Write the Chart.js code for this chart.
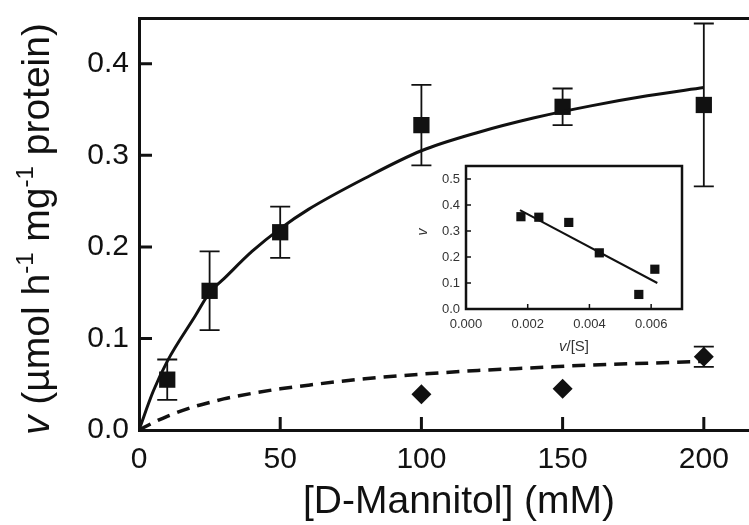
<!DOCTYPE html>
<html>
<head>
<meta charset="utf-8">
<script src="https://cdn.jsdelivr.net/npm/chart.js@4.4.1/dist/chart.umd.min.js"></script>
<style>
    html, body { margin: 0; padding: 0; background: #fff; }
    #wrap { position: relative; width: 749px; height: 525px; }
    #main { position: absolute; left: 0; top: 0; }
    #inset { position: absolute; left: 400px; top: 150px; }
</style>
</head>
<body>
<div id="wrap">
    <canvas id="main" width="749" height="525"></canvas>
    <canvas id="inset" width="300" height="215"></canvas>
</div>
<script>
// main panel: uptake vs [D-Mannitol]
const xTicks = [0, 50, 100, 150, 200];
const yTicks = [0, 0.1, 0.2, 0.3, 0.4];
const mannitol = [10, 25, 50, 100, 150, 200];
const rate = [0.055, 0.152, 0.216, 0.333, 0.353, 0.355];
const rateErr = [0.022, 0.043, 0.028, 0.044, 0.020, 0.089];
const mannitolB = [100, 150, 200];
const rateB = [0.039, 0.045, 0.080];
const rateBErr = [0, 0, 0.011];
// fitted curves
const fitX = [0, 5, 10, 20, 25, 30, 40, 50, 60, 80, 100, 120, 140, 160, 180, 200];
const fitSolid = [0, 0.042, 0.075, 0.125, 0.150, 0.165, 0.195, 0.220, 0.241, 0.275, 0.305, 0.325, 0.341, 0.354, 0.365, 0.374];
const fitDashed = [0, 0.008, 0.015, 0.026, 0.030, 0.034, 0.040, 0.045, 0.049, 0.056, 0.061, 0.065, 0.068, 0.071, 0.073, 0.075];

// inset: v vs v/[S]
const insetX = [0.00178, 0.00236, 0.00333, 0.00432, 0.00560, 0.00612];
const insetY = [0.355, 0.353, 0.333, 0.216, 0.056, 0.153];
const insetLineX = [0.00175, 0.00620];
const insetLineY = [0.380, 0.100];
const insetXTicks = [0, 0.002, 0.004, 0.006];
const insetYTicks = [0, 0.1, 0.2, 0.3, 0.4, 0.5];

const INK = '#111';
const FAMILY = "'Liberation Sans', Arial, sans-serif";

// text with italic / superscript pieces
function drawRich(ctx, parts, x, y, size, align) {
    const fontOf = p => (p[1] === 'i' ? 'italic ' : '') + (p[1] === 's' ? Math.round(size * 0.62) : size) + 'px ' + FAMILY;
    let total = 0;
    parts.forEach(p => { ctx.font = fontOf(p); total += ctx.measureText(p[0]).width; });
    let cx = align === 'center' ? x - total / 2 : x;
    ctx.textAlign = 'left';
    ctx.textBaseline = 'alphabetic';
    parts.forEach(p => {
        ctx.font = fontOf(p);
        ctx.fillText(p[0], cx, p[1] === 's' ? y - size * 0.42 : y);
        cx += ctx.measureText(p[0]).width;
    });
}

const errorBars = {
    id: 'errorBars',
    beforeDatasetsDraw(chart) {
        const ctx = chart.ctx;
        const xs = chart.scales.x, ys = chart.scales.y;
        chart.data.datasets.forEach(ds => {
            if (!ds.errors) return;
            ds.data.forEach((d, i) => {
                const e = ds.errors[i];
                if (!e) return;
                const px = xs.getPixelForValue(d.x);
                const top = ys.getPixelForValue(d.y + e);
                const bot = ys.getPixelForValue(d.y - e);
                ctx.save();
                ctx.strokeStyle = INK;
                ctx.lineWidth = 1.8;
                ctx.beginPath();
                ctx.moveTo(px, top); ctx.lineTo(px, bot);
                ctx.moveTo(px - 10, top); ctx.lineTo(px + 10, top);
                ctx.moveTo(px - 10, bot); ctx.lineTo(px + 10, bot);
                ctx.stroke();
                ctx.restore();
            });
        });
    }
};

const mainDecor = {
    id: 'mainDecor',
    afterDraw(chart) {
        const ctx = chart.ctx;
        const { left, bottom } = chart.chartArea;
        const xs = chart.scales.x, ys = chart.scales.y;
        ctx.save();
        ctx.strokeStyle = INK;
        ctx.lineWidth = 3;
        ctx.beginPath();
        xTicks.forEach(v => {
            if (v === 0) return;
            const px = xs.getPixelForValue(v);
            ctx.moveTo(px, bottom); ctx.lineTo(px, bottom - 13);
        });
        yTicks.forEach(v => {
            if (v === 0) return;
            const py = ys.getPixelForValue(v);
            ctx.moveTo(left, py); ctx.lineTo(left + 13, py);
        });
        ctx.stroke();

        ctx.fillStyle = INK;
        drawRich(ctx, [['[D-Mannitol] (mM)', '']], 459, 513, 39, 'center');

        ctx.translate(49, 229);
        ctx.rotate(-Math.PI / 2);
        drawRich(ctx, [['v', 'i'], [' (µmol h', ''], ['-1', 's'], [' mg', ''], ['-1', 's'], [' protein)', '']], 0, 0, 39, 'center');
        ctx.restore();
    }
};

new Chart(document.getElementById('main'), {
    type: 'scatter',
    data: {
        datasets: [
            {
                type: 'line',
                data: fitX.map((x, i) => ({ x, y: fitSolid[i] })),
                borderColor: INK, borderWidth: 3, pointRadius: 0,
                cubicInterpolationMode: 'monotone', fill: false,
                xAxisID: 'x', yAxisID: 'y',
            },
            {
                type: 'line',
                data: fitX.map((x, i) => ({ x, y: fitDashed[i] })),
                borderColor: INK, borderWidth: 3.5, borderDash: [13, 8], pointRadius: 0,
                cubicInterpolationMode: 'monotone', fill: false,
                xAxisID: 'x', yAxisID: 'y',
            },
            {
                data: mannitol.map((x, i) => ({ x, y: rate[i] })),
                errors: rateErr,
                pointStyle: 'rect', pointRadius: 11.5,
                backgroundColor: INK, borderColor: INK, borderWidth: 0,
                xAxisID: 'x', yAxisID: 'y',
            },
            {
                data: mannitolB.map((x, i) => ({ x, y: rateB[i] })),
                errors: rateBErr,
                pointStyle: 'rectRot', pointRadius: 10,
                backgroundColor: INK, borderColor: INK, borderWidth: 0,
                xAxisID: 'x', yAxisID: 'y',
            },
        ],
    },
    options: {
        responsive: false,
        animation: false,
        devicePixelRatio: 1,
        layout: { autoPadding: false, padding: { top: 18, right: 0, left: 0, bottom: 0 } },
        plugins: { legend: { display: false }, tooltip: { enabled: false } },
        scales: {
            x: {
                type: 'linear', position: 'bottom', min: 0, max: 216,
                afterBuildTicks: s => { s.ticks = xTicks.map(v => ({ value: v })); },
                afterFit: s => { s.height = 95; s.paddingRight = 0; },
                grid: { display: false, drawTicks: false },
                border: { display: true, color: INK, width: 3 },
                ticks: { color: INK, font: { family: FAMILY, size: 30 }, padding: 12, maxRotation: 0 },
            },
            xTop: {
                type: 'linear', position: 'top', axis: 'x', min: 0, max: 216,
                afterFit: s => { s.height = 0; s.paddingLeft = 0; s.paddingRight = 0; },
                grid: { display: false, drawTicks: false },
                border: { display: true, color: INK, width: 3 },
                ticks: { display: false },
            },
            y: {
                type: 'linear', min: 0, max: 0.45,
                afterBuildTicks: s => { s.ticks = yTicks.map(v => ({ value: v })); },
                afterFit: s => { s.width = 139; s.paddingTop = 0; s.paddingBottom = 0; },
                grid: { display: false, drawTicks: false },
                border: { display: true, color: INK, width: 3 },
                ticks: { color: INK, font: { family: FAMILY, size: 30 }, padding: 10, callback: v => v.toFixed(1) },
            },
        },
    },
    plugins: [errorBars, mainDecor],
});

// inset frame, ticks and titles
const insetDecor = {
    id: 'insetDecor',
    beforeDraw(chart) {
        const { left, top, width, height } = chart.chartArea;
        chart.ctx.save();
        chart.ctx.fillStyle = '#fff';
        chart.ctx.fillRect(left, top, width, height);
        chart.ctx.restore();
    },
    afterDraw(chart) {
        const ctx = chart.ctx;
        const { left, top, right, bottom } = chart.chartArea;
        const xs = chart.scales.x, ys = chart.scales.y;
        ctx.save();
        ctx.strokeStyle = INK;
        ctx.lineWidth = 2.5;
        ctx.strokeRect(left, top, right - left, bottom - top);
        ctx.lineWidth = 1.5;
        ctx.beginPath();
        insetXTicks.forEach(v => {
            if (v === 0) return;
            const px = xs.getPixelForValue(v);
            ctx.moveTo(px, bottom); ctx.lineTo(px, bottom - 5);
        });
        insetYTicks.forEach(v => {
            if (v === 0) return;
            const py = ys.getPixelForValue(v);
            ctx.moveTo(left, py); ctx.lineTo(left + 5, py);
        });
        ctx.stroke();

        ctx.fillStyle = '#333';
        drawRich(ctx, [['v', 'i'], ['/[S]', '']], 174, 201, 15, 'center');
        ctx.translate(27, 82);
        ctx.rotate(-Math.PI / 2);
        drawRich(ctx, [['v', 'i']], 0, 0, 14, 'center');
        ctx.restore();
    }
};

new Chart(document.getElementById('inset'), {
    type: 'scatter',
    data: {
        datasets: [
            {
                type: 'line',
                data: insetLineX.map((x, i) => ({ x, y: insetLineY[i] })),
                borderColor: INK, borderWidth: 2, pointRadius: 0, fill: false,
            },
            {
                data: insetX.map((x, i) => ({ x, y: insetY[i] })),
                pointStyle: 'rect', pointRadius: 6.5,
                backgroundColor: INK, borderColor: INK, borderWidth: 0,
            },
        ],
    },
    options: {
        responsive: false,
        animation: false,
        devicePixelRatio: 1,
        layout: { autoPadding: false, padding: { top: 16, right: 18, left: 0, bottom: 0 } },
        plugins: { legend: { display: false }, tooltip: { enabled: false } },
        scales: {
            x: {
                type: 'linear', min: 0, max: 0.007,
                afterBuildTicks: s => { s.ticks = insetXTicks.map(v => ({ value: v })); },
                afterFit: s => { s.height = 56; },
                grid: { display: false, drawTicks: false },
                border: { display: false },
                ticks: { color: '#333', font: { family: FAMILY, size: 13 }, padding: 8, maxRotation: 0, callback: v => v.toFixed(3) },
            },
            y: {
                type: 'linear', min: 0, max: 0.55,
                afterBuildTicks: s => { s.ticks = insetYTicks.map(v => ({ value: v })); },
                afterFit: s => { s.width = 66; s.paddingTop = 0; s.paddingBottom = 0; },
                grid: { display: false, drawTicks: false },
                border: { display: false },
                ticks: { color: '#333', font: { family: FAMILY, size: 13 }, padding: 6, callback: v => v.toFixed(1) },
            },
        },
    },
    plugins: [insetDecor],
});
</script>
</body>
</html>
